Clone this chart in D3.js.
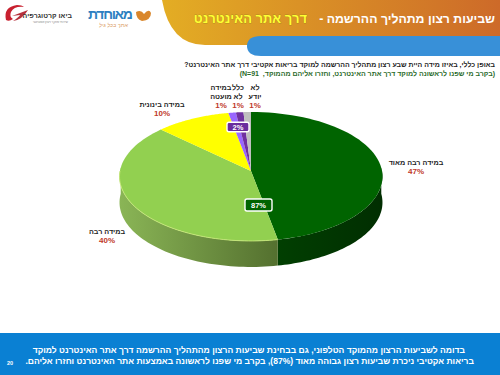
<!DOCTYPE html>
<html>
<head>
<meta charset="utf-8">
<script src="https://cdn.jsdelivr.net/npm/d3@7"></script>
<style>
  html, body { margin: 0; padding: 0; background: #fff; }
  svg { display: block; }
  text { font-family: "Liberation Sans", Arial, sans-serif; }
</style>
</head>
<body>
<svg id="chart" width="500" height="375"></svg>
<script>
// chart values
const categories = ['במידה רבה מאוד', 'במידה רבה', 'במידה בינונית', 'במידה מועטה', 'כלל לא', 'לא יודע'];
const values = [47, 40, 10, 1, 1, 1];
const valueLabels = ['47%', '40%', '10%', '1%', '1%', '1%'];
const topColors = ['#006400', '#92d050', '#ffff00', '#9966ff', '#7030a0', '#bfbfbf'];
// left and right colour of each slice's wall
const sideColors = [['#013f01', '#012e01'], ['#8ab556', '#54702f'], ['#cccc00', '#999900'], ['#7a52cc', '#6040a0'], ['#5a2680', '#401a5c'], ['#999', '#777']];

const svg = d3.select('#chart');
const defs = svg.append('defs');

// header band
const headGrad = defs.append('linearGradient').attr('id', 'head');
headGrad.append('stop').attr('offset', '0%').attr('stop-color', '#e3ad24');
headGrad.append('stop').attr('offset', '100%').attr('stop-color', '#cd6a29');

svg.append('path')
  .attr('d', 'M162,0 H500 V37 H285 Q275,37 268,45 H205 Q170,45 162,0 Z')
  .attr('fill', 'url(#head)');
svg.append('path')
  .attr('d', 'M261,36 H500 V56 H261 Q247,56 247,46 Q247,36 261,36 Z')
  .attr('fill', '#3890d8');

svg.append('text')
  .attr('x', 495).attr('y', 23)
  .attr('direction', 'rtl')
  .attr('font-size', 12.3).attr('font-weight', 'bold')
  .attr('fill', '#fff')
  .text('שביעות רצון מתהליך ההרשמה -');
svg.append('text')
  .attr('x', 307).attr('y', 23)
  .attr('direction', 'rtl')
  .attr('font-size', 13).attr('font-weight', 'bold')
  .attr('fill', '#ffff33')
  .attr('stroke', '#8a7a10').attr('stroke-width', 0.4).attr('paint-order', 'stroke')
  .text('דרך אתר האינטרנט');

// logos, roughly
svg.append('text').attr('x', 133).attr('y', 19).attr('direction', 'rtl')
  .attr('font-size', 14).attr('font-weight', 'bold').attr('fill', '#2d7fc1')
  .attr('textLength', 45).text('מאוחדת');
svg.append('text').attr('x', 128).attr('y', 27).attr('direction', 'rtl')
  .attr('font-size', 5.5).attr('font-style', 'italic').attr('fill', '#d9995e').text('אתך בכל גיל');
svg.append('path').attr('d', 'M136,12 Q141,9 144,14 Q149,8 151,13 Q151,20 142,21 Q136,19 136,12 Z').attr('fill', '#d9872c');
svg.append('path').attr('d', 'M6,20 Q3,7 17,5 Q22,5 24,7 Q14,6 11,12 Q9,17 13,19 Q9,22 6,20 Z').attr('fill', '#c8202f');
svg.append('path').attr('d', 'M12,16 L28,10 Q22,20 13,21 Q19,17 20,15 Z').attr('fill', '#b5303c');
svg.append('text').attr('x', 72).attr('y', 18).attr('direction', 'rtl')
  .attr('font-size', 7).attr('font-weight', 'bold').attr('fill', '#333').text('ביאו קרטוגרפיה');
svg.append('text').attr('x', 68).attr('y', 22.5).attr('direction', 'rtl')
  .attr('font-size', 3).attr('fill', '#888').text('שירותי מחקר ויעוץ אסטרטגי');

// question text
svg.append('text').attr('x', 495).attr('y', 66.5).attr('direction', 'rtl')
  .attr('font-size', 6.95).attr('font-weight', 'bold').attr('fill', '#222')
  .text('באופן כללי, באיזו מידה היית שבע רצון מתהליך ההרשמה למוקד בריאות אקטיבי דרך אתר האינטרנט?');
svg.append('text').attr('x', 495).attr('y', 76).attr('direction', 'rtl')
  .attr('font-size', 7).attr('font-weight', 'bold').attr('fill', '#2a6a2a')
  .text('(בקרב מי שפנו לראשונה למוקד דרך אתר האינטרנט, וחזרו אליהם מהמוקד,\u00a0\u00a0N=91)');

// pie, with a slight perspective so the apex sits above the ellipse middle
const cx = 251, cy = 171, rx = 131, ry = 64, tilt = 0.085, depth = 26;
const project = (a, r) => {
  const X = Math.sin(a) * r, Y = -Math.cos(a) * r;
  const s = 1 / (1 - tilt * Y);
  return [cx + rx * X * s, cy + ry * Y * s];
};
const pie = d3.pie().sort(null).value(d => d)(values);
const line = d3.line();
const rimPoints = (a0, a1) => d3.range(0, 61).map(i => project(a0 + (a1 - a0) * i / 60, 1));

// side wall, only the front half shows
pie.forEach((d, i) => {
  const a0 = Math.max(d.startAngle, Math.PI / 2 - 0.05);
  const a1 = Math.min(d.endAngle, Math.PI * 1.5 + 0.05);
  if (a1 <= a0) return;
  const rim = rimPoints(a0, a1);
  const lower = rim.map(p => [p[0], p[1] + depth]).reverse();
  const gradId = 'side' + i;
  const g = defs.append('linearGradient').attr('id', gradId);
  g.append('stop').attr('offset', '0%').attr('stop-color', sideColors[i][0]);
  g.append('stop').attr('offset', '100%').attr('stop-color', sideColors[i][1]);
  svg.append('path')
    .attr('d', line(rim.concat(lower)) + 'Z')
    .attr('fill', `url(#${gradId})`);
});

// top face
pie.forEach((d, i) => {
  const pts = [project(0, 0)].concat(rimPoints(d.startAngle, d.endAngle));
  svg.append('path')
    .attr('d', line(pts) + 'Z')
    .attr('fill', topColors[i]);
});

// bright edge along the front of the light green slice
svg.append('path')
  .attr('d', line(rimPoints(pie[1].startAngle, Math.PI * 1.5)))
  .attr('fill', 'none').attr('stroke', '#c6e878').attr('stroke-width', 0.9);

// slice labels
const labelLines = [
  ['במידה רבה מאוד'], ['במידה רבה'], ['במידה בינונית'],
  ['במידה', 'מועטה'], ['כלל', 'לא'], ['לא', 'יודע']
];
const labelPos = [[416, 164.5], [107, 233.5], [162, 107], [221, 90], [238, 90], [255, 90]];
categories.forEach((c, i) => {
  const t = svg.append('text').attr('text-anchor', 'middle').attr('font-size', 7.2).attr('font-weight', 'bold');
  labelLines[i].forEach((s, j) => {
    t.append('tspan').attr('x', labelPos[i][0]).attr('y', labelPos[i][1] + j * 9.2)
      .attr('direction', 'rtl').attr('fill', '#222').text(s);
  });
  t.append('tspan').attr('x', labelPos[i][0]).attr('y', labelPos[i][1] + labelLines[i].length * 9.2)
    .attr('font-size', 8).attr('fill', '#c0392b').text(valueLabels[i]);
});

// summary badges
const badge = (x, y, w, h, fill, label) => {
  svg.append('rect').attr('x', x - w / 2).attr('y', y - h / 2).attr('width', w).attr('height', h)
    .attr('rx', 2).attr('fill', fill).attr('stroke', '#fff').attr('stroke-width', 1.4);
  svg.append('text').attr('x', x).attr('y', y + 2.6).attr('text-anchor', 'middle')
    .attr('font-size', 7.5).attr('font-weight', 'bold').attr('fill', '#fff').text(label);
};
badge(238, 127, 22, 9.5, '#6a2c9e', '2%');
badge(258.5, 205, 27, 12, '#006400', '87%');

// footer
svg.append('rect').attr('x', 0).attr('y', 333).attr('width', 500).attr('height', 42).attr('fill', '#0a80d3');
svg.append('text').attr('x', 465).attr('y', 353).attr('direction', 'rtl')
  .attr('font-size', 8.55).attr('font-weight', 'bold').attr('fill', '#fff')
  .text('בדומה לשביעות הרצון מהמוקד הטלפוני, גם בבחינת שביעות הרצון מהתהליך ההרשמה דרך אתר האינטרנט למוקד');
svg.append('text').attr('x', 474).attr('y', 364).attr('direction', 'rtl')
  .attr('font-size', 8.55).attr('font-weight', 'bold').attr('fill', '#fff')
  .text('בריאות אקטיבי ניכרת שביעות רצון גבוהה מאוד (87%), בקרב מי שפנו לראשונה באמצעות אתר האינטרנט וחזרו אליהם.');
svg.append('text').attr('x', 7).attr('y', 365).attr('font-size', 5.5).attr('font-weight', 'bold').attr('fill', '#fff').text('20');
</script>
</body>
</html>
